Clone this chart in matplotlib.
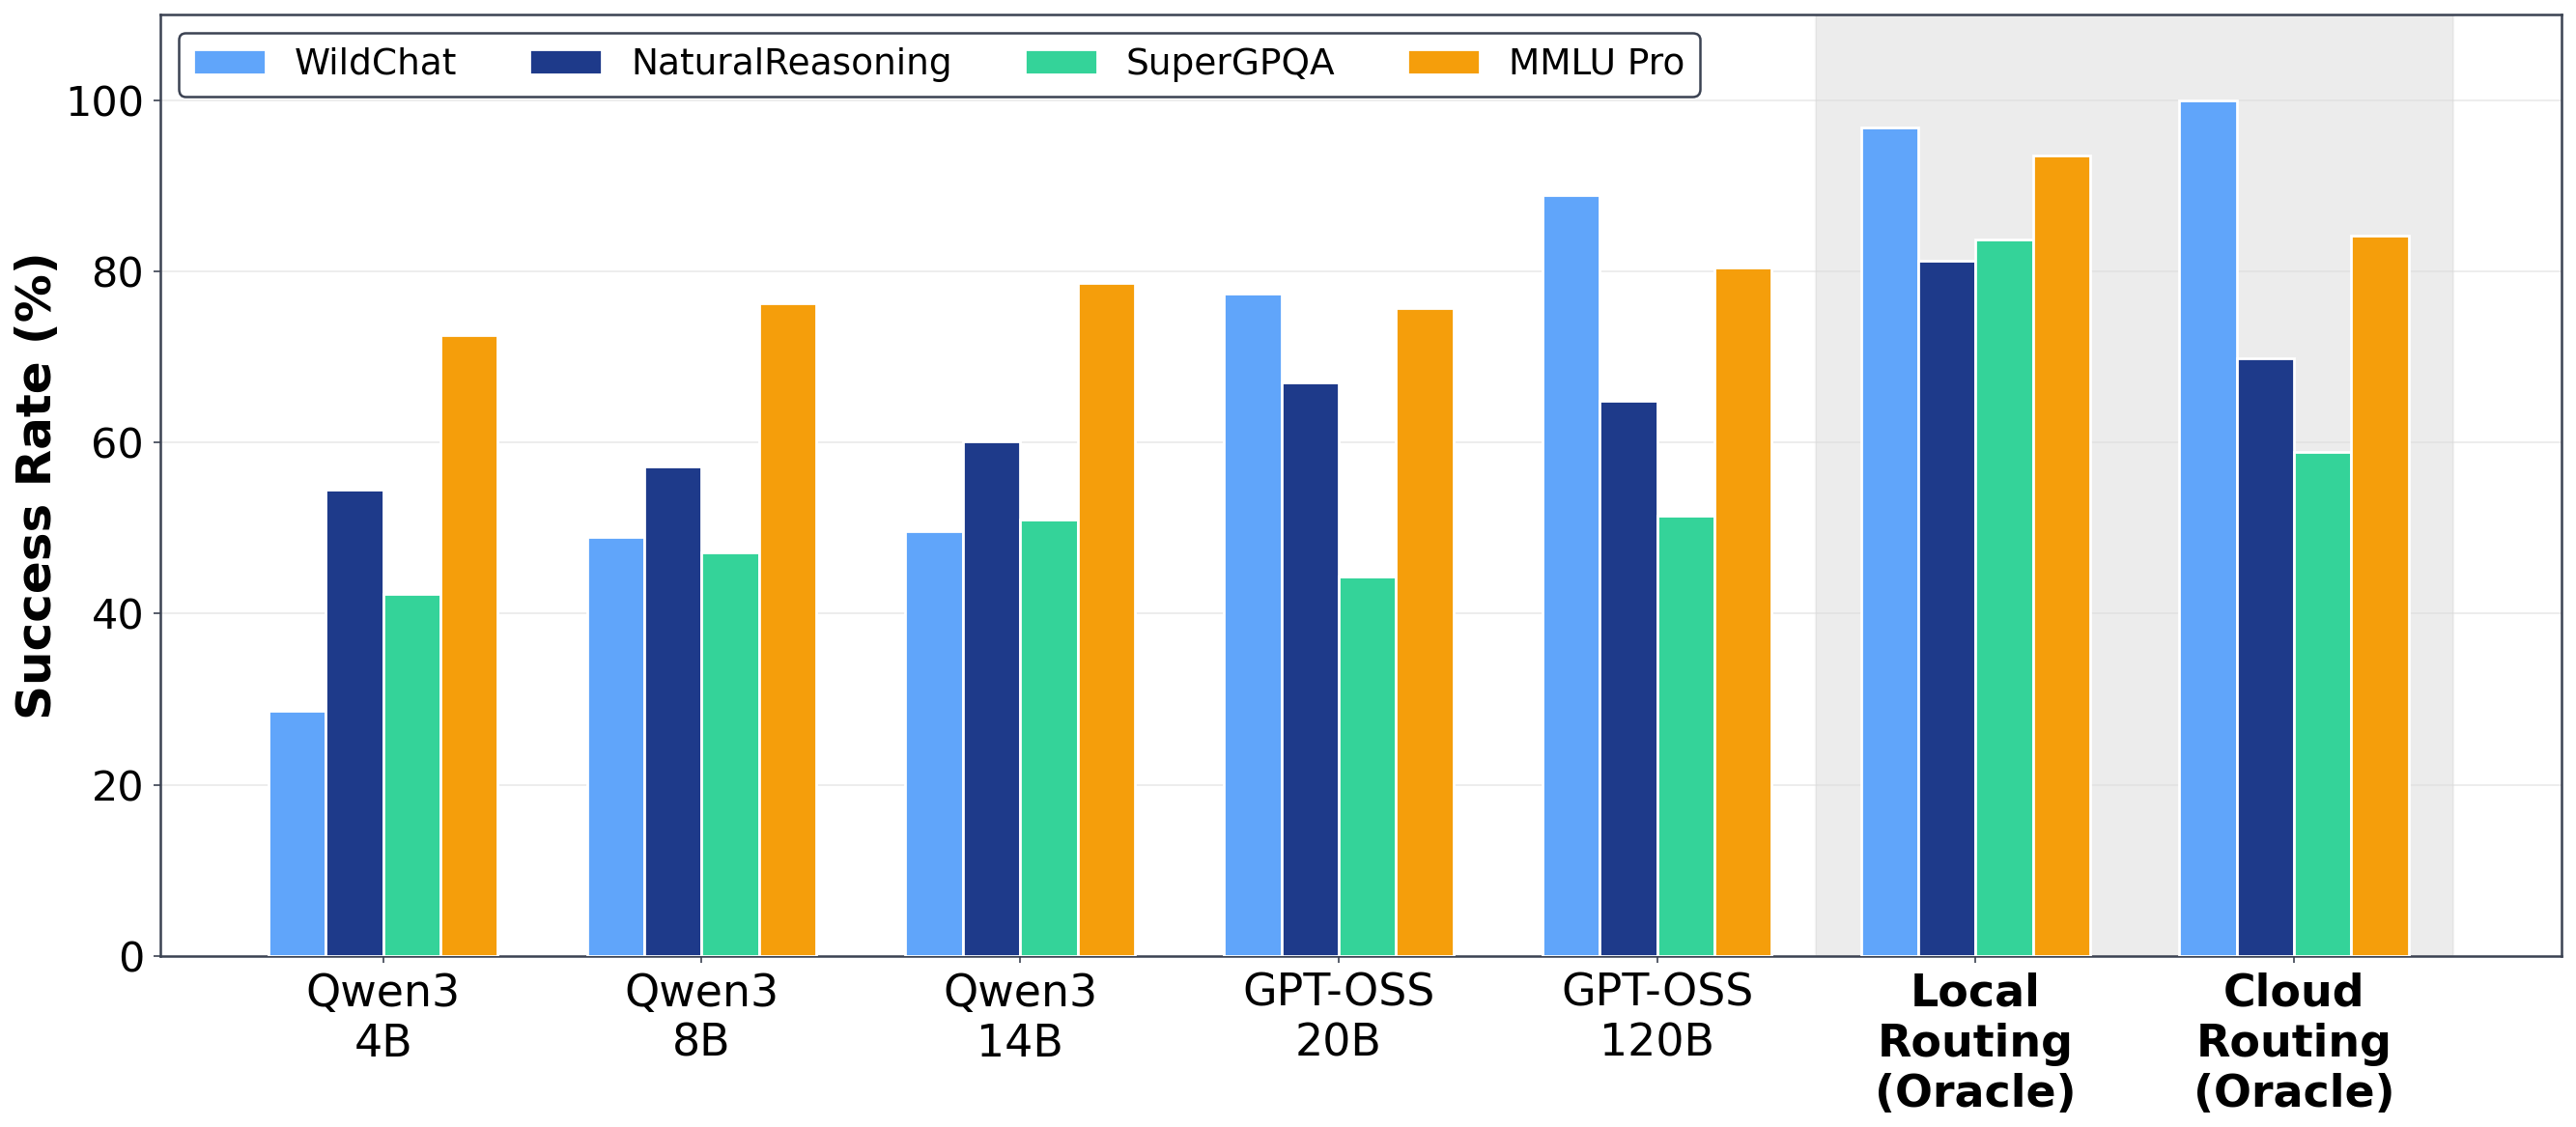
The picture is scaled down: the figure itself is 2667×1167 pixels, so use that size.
import matplotlib
matplotlib.use("Agg")
import matplotlib.pyplot as plt
import numpy as np

models = ["Qwen3\n4B", "Qwen3\n8B", "Qwen3\n14B", "GPT-OSS\n20B", "GPT-OSS\n120B",
          "Local\nRouting\n(Oracle)", "Cloud\nRouting\n(Oracle)"]
datasets = ["WildChat", "NaturalReasoning", "SuperGPQA", "MMLU Pro"]

wildchat = [28.7, 49.0, 49.7, 77.4, 88.9, 96.8, 100.0]
natural_reasoning = [54.5, 57.2, 60.1, 67.0, 64.9, 81.2, 69.8]
supergpqa = [42.3, 47.2, 51.0, 44.4, 51.5, 83.7, 58.9]
mmlu_pro = [72.5, 76.3, 78.7, 75.7, 80.4, 93.5, 84.2]

series = [wildchat, natural_reasoning, supergpqa, mmlu_pro]
colors = ["#60A5FA", "#1E3A8A", "#34D399", "#F59E0B"]
spine_col = "#3B4252"

fig = plt.figure(figsize=(13.335, 5.835), dpi=200)
ax = fig.add_axes([0.0622, 0.1517, 0.9322, 0.8353])

x = np.arange(len(models))
width = 0.18
offsets = (np.arange(len(series)) - 1.5) * width

# oracle region
ax.axvspan(4.5, 6.5, facecolor="gray", alpha=0.15, edgecolor="#b0b0b0", lw=0.8, zorder=0)

for i, vals in enumerate(series):
    ax.bar(x + offsets[i], vals, width, color=colors[i], edgecolor="white",
           linewidth=1.0, label=datasets[i], zorder=3)

ax.set_xlim(-0.7, 6.84)
ax.set_ylim(0, 110)
ax.set_yticks([0, 20, 40, 60, 80, 100])
ax.yaxis.grid(True, color="#d8d8d8", alpha=0.45, lw=0.7, zorder=1)
ax.set_axisbelow(True)

ax.set_xticks(x)
ax.set_xticklabels(models, fontsize=16.5)
for lab in ax.get_xticklabels()[5:]:
    lab.set_fontweight("bold")
ax.tick_params(axis="y", labelsize=15.5)
ax.tick_params(length=2.5, width=0.6, color=spine_col)

ax.set_ylabel("Success Rate (%)", fontsize=18, fontweight="bold", labelpad=1.5)

for s in ax.spines.values():
    s.set_color(spine_col)
    s.set_linewidth(0.9)

leg = ax.legend(loc="upper left", ncol=4, fontsize=13.5, frameon=True, framealpha=1.0)
leg.get_frame().set_edgecolor(spine_col)
leg.get_frame().set_linewidth(0.9)

fig.savefig("out.png", dpi=200)
